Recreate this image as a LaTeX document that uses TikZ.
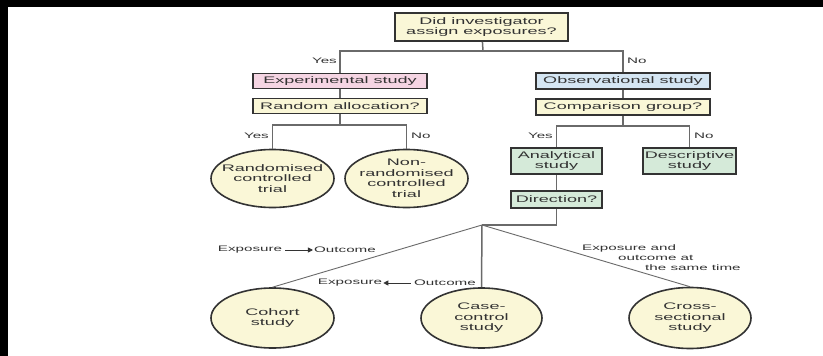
\documentclass[tikz,border=0pt]{standalone}
\usepackage{fontspec}
\setmainfont[FakeStretch=1.9]{Liberation Sans}
\usetikzlibrary{arrows.meta,shapes.geometric}
\definecolor{boxyellow}{HTML}{FAF7D7}
\definecolor{boxpink}{HTML}{F5D5E3}
\definecolor{boxblue}{HTML}{D5E6F3}
\definecolor{boxgreen}{HTML}{D5EAD9}
\definecolor{linegrey}{HTML}{6A6A6A}
\definecolor{inkgrey}{HTML}{333333}
\tikzset{
  qbox/.style={draw=inkgrey,line width=1.6pt,fill=boxyellow,align=center,inner sep=0pt,
    text=inkgrey,font=\fontsize{9.5}{10.5}\selectfont},
  studybox/.style={qbox,fill=boxgreen,minimum width=91pt},
  studyoval/.style={ellipse,draw=inkgrey,line width=1.6pt,fill=boxyellow,align=center,
    inner xsep=-14pt,inner ysep=0pt,minimum width=123pt,minimum height=58pt,
    text=inkgrey,font=\fontsize{9.5}{10.5}\selectfont},
  branch/.style={text=inkgrey,inner sep=1pt,font=\fontsize{8}{9.7}\selectfont},
  link/.style={draw=linegrey,line width=1.5pt},
  thinlink/.style={draw=linegrey,line width=0.9pt}
}
\begin{document}
\begin{tikzpicture}[x=1pt,y=-1pt]
\useasboundingbox (0,0) rectangle (823,356);
\fill[black] (0,0) rectangle (823,356);
\fill[white] (8,7) rectangle (823,356);
\node[qbox,minimum width=173pt,minimum height=28pt] (assign) at (481.5,27) {Did investigator\\assign exposures?};
\node[qbox,fill=boxpink,minimum width=174pt,minimum height=15pt] (exper) at (340,81) {Experimental study};
\node[qbox,minimum width=174pt,minimum height=15pt] (random) at (340,106) {Random allocation?};
\node[qbox,fill=boxblue,minimum width=174pt,minimum height=16pt] (observ) at (623,81) {Observational study};
\node[qbox,minimum width=174pt,minimum height=16pt] (compar) at (623,107) {Comparison group?};
\node[studybox,minimum height=26pt] (analyt) at (556.5,161) {Analytical\\study};
\node[studybox,minimum width=93pt,minimum height=26pt] (descr) at (689.5,161) {Descriptive\\study};
\node[studybox,minimum height=17pt] (direct) at (556.5,199.5) {Direction?};
\node[studyoval] (rct) at (272.5,178.5) {Randomised\\controlled\\trial};
\node[studyoval] (nrct) at (406.5,178.5) {Non-\\randomised\\controlled\\trial};
\node[studyoval,minimum height=60pt] (cohort) at (272.5,318) {Cohort\\study};
\node[studyoval,minimum width=121pt,minimum height=60pt] (casectl) at (481.5,318) {Case-\\control\\study};
\node[studyoval,minimum width=122pt,minimum height=61pt] (cross) at (690,318) {Cross-\\sectional\\study};
\coordinate (splitA) at (483,51);
\coordinate (splitB) at (340,125);
\coordinate (splitC) at (623,126);
\coordinate (splitD) at (482,225);
\draw[link] (assign) -- (splitA);
\draw[link] (exper) |- (splitA) -| (observ);
\draw[link] (exper) -- (random);
\draw[link] (observ) -- (compar);
\draw[link] (random) -- (splitB);
\draw[link] (rct) |- (splitB) -| (nrct);
\draw[link] (compar) -- (splitC);
\draw[link] (analyt) |- (splitC) -| (descr);
\draw[link] (analyt) -- (direct);
\draw[link] (direct) |- (splitD);
\draw[thinlink] (splitD) -- (cohort.north);
\draw[link] (splitD) -- (casectl.north);
\draw[thinlink] (splitD) -- (cross.north);
\node[branch,anchor=east] (yesA) at (338,61) {Yes};
\node[branch,anchor=west] (noA) at (626,61) {No};
\node[branch,anchor=east] (yesB) at (270,136) {Yes};
\node[branch,anchor=west] (noB) at (410,136) {No};
\node[branch,anchor=east] (yesC) at (554,136) {Yes};
\node[branch,anchor=west] (noC) at (693,136) {No};
\node[branch] (expoA) at (250,250) {Exposure};
\node[branch] (outA) at (345,250) {Outcome};
\draw[inkgrey,line width=0.8pt,shorten <=2pt,-{Triangle[length=5pt,width=5pt]}] (expoA) -- (outA);
\node[branch] (expoB) at (350,283) {Exposure};
\node[branch] (outB) at (445,283) {Outcome};
\draw[inkgrey,line width=0.8pt,shorten <=2pt,-{Triangle[length=5pt,width=5pt]}] (outB) -- (expoB);
\node[branch,anchor=north west,align=left] (same) at (581,244) {Exposure and\\\hspace*{36pt}outcome at\\\hspace*{63pt}the same time};
\end{tikzpicture}
\end{document}
